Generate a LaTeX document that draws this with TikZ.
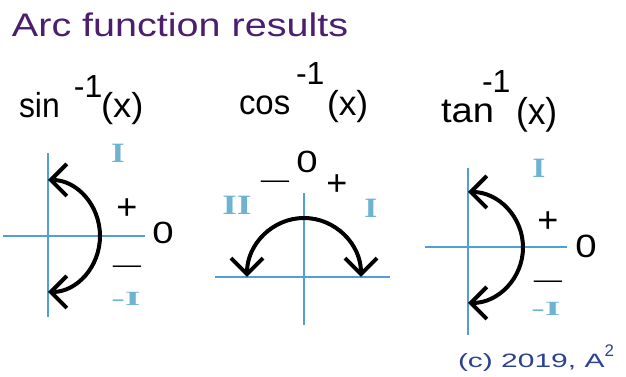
\documentclass[tikz,border=0pt]{standalone}
\usepackage{fontspec}
\usepackage{graphicx}
\setmainfont{Liberation Sans}
\newfontfamily\numeralfont{Liberation Serif}
\usetikzlibrary{arrows.meta}
\definecolor{titlepurple}{RGB}{75,30,110}
\definecolor{axisblue}{RGB}{80,160,215}
\definecolor{numeral}{RGB}{110,180,210}
\definecolor{copyblue}{RGB}{45,65,145}
\begin{document}
\begin{tikzpicture}[x=0.75pt,y=0.75pt,
  axis/.style={draw=axisblue,line width=1.6pt},
  arcarrow/.style={draw=black,line width=3pt,
    {Straight Barb[length=12pt,width=24pt]}-{Straight Barb[length=12pt,width=24pt]}},
  txt/.style={inner sep=0pt,outer sep=0pt},
  fnlabel/.style={txt,anchor=base west,font=\fontsize{26}{30}\selectfont},
  explabel/.style={txt,anchor=base west,font=\fontsize{24}{28}\selectfont},
  zerolabel/.style={txt,anchor=center,font=\fontsize{23}{26}\selectfont},
  pluslabel/.style={txt,anchor=base,font=\fontsize{27}{30}\selectfont},
  minuslabel/.style={txt,anchor=base,font=\fontsize{17}{20}\selectfont},
  romanlabel/.style={txt,anchor=center,text=numeral,font=\numeralfont\bfseries\fontsize{21}{24}\selectfont},
]
\useasboundingbox (0,0) rectangle (626,377);

% title
\node[txt,anchor=base west,text=titlepurple,font=\fontsize{24.5}{28}\selectfont] (title) at (12,340)
  {\scalebox{1.21}[1]{Arc function results}};

% ---------- sin^-1 ----------
\node[fnlabel] (sinname) at (19,259) {\scalebox{0.92}[1]{sin}};
\node[explabel] (sinexp) at (74,279) {-1};
\node[fnlabel] (sinarg) at (101,259) {\scalebox{1.05}[1]{(x)}};

\coordinate (sinV1) at (48,224);
\coordinate (sinV2) at (48,60);
\coordinate (sinH1) at (3,141);
\coordinate (sinH2) at (145,141);
\draw[axis] (sinV1) -- (sinV2);
\draw[axis] (sinH1) -- (sinH2);
\coordinate (sinTop) at (48,197);
\draw[arcarrow] (sinTop) arc[start angle=90,end angle=-90,x radius=52,y radius=56];

\node[romanlabel] (sinI) at (118,224) {\scalebox{1.25}[1]{I}};
\node[pluslabel] (sinplus) at (127,157) {+};
\node[zerolabel] (sinzero) at (163,144) {\scalebox{1.25}[1]{0}};
\node[minuslabel] (sinminus) at (127,104) {\scalebox{1.25}[1]{—}};
\node[romanlabel] (sinmI) at (126,78) {\scalebox{1.45}[0.72]{-I}};

% ---------- cos^-1 ----------
\node[fnlabel] (cosname) at (239,262) {\scalebox{0.95}[1]{cos}};
\node[explabel] (cosexp) at (296,292) {-1};
\node[fnlabel] (cosarg) at (327,261) {\scalebox{1.02}[1]{(x)}};

\coordinate (cosV1) at (304,184);
\coordinate (cosV2) at (304,52);
\coordinate (cosH1) at (215,100);
\coordinate (cosH2) at (390,100);
\draw[axis] (cosV1) -- (cosV2);
\draw[axis] (cosH1) -- (cosH2);
\coordinate (cosLeft) at (247,100);
\draw[arcarrow] (cosLeft) arc[start angle=180,end angle=0,x radius=57,y radius=59];

\node[zerolabel] (coszero) at (307,215) {\scalebox{1.25}[1]{0}};
\node[minuslabel] (cosminus) at (275,189) {\scalebox{1.25}[1]{—}};
\node[pluslabel] (cosplus) at (337,181) {+};
\node[romanlabel] (cosII) at (237,172) {\scalebox{1.35}[1]{II}};
\node[romanlabel] (cosI) at (371,169) {\scalebox{1.2}[1]{I}};

% ---------- tan^-1 ----------
\node[fnlabel] (tanname) at (441,254) {\scalebox{1.1}[1]{tan}};
\node[explabel] (tanexp) at (482,284) {-1};
\node[fnlabel] (tanarg) at (516,252) {\scalebox{1.02}[1.08]{(x)}};

\coordinate (tanV1) at (468,209);
\coordinate (tanV2) at (468,42);
\coordinate (tanH1) at (425,130);
\coordinate (tanH2) at (567,130);
\draw[axis] (tanV1) -- (tanV2);
\draw[axis] (tanH1) -- (tanH2);
\coordinate (tanTop) at (468,185);
\draw[arcarrow] (tanTop) arc[start angle=90,end angle=-90,x radius=55,y radius=55.5];

\node[romanlabel] (tanI) at (539,209) {\scalebox{1.2}[1]{I}};
\node[pluslabel] (tanplus) at (548,144) {+};
\node[zerolabel] (tanzero) at (586,131) {\scalebox{1.25}[1.05]{0}};
\node[minuslabel] (tanminus) at (548,89) {\scalebox{1.25}[1]{—}};
\node[romanlabel] (tanmI) at (546,68) {\scalebox{1.45}[0.72]{-I}};

% copyright
\node[txt,anchor=base west,text=copyblue,font=\fontsize{14.5}{17}\selectfont] (copy) at (458,9)
  {\scalebox{1.55}[1]{(c) 2019, A}\raisebox{8.25pt}{\fontsize{12.6}{14}\selectfont 2}};
\end{tikzpicture}
\end{document}
